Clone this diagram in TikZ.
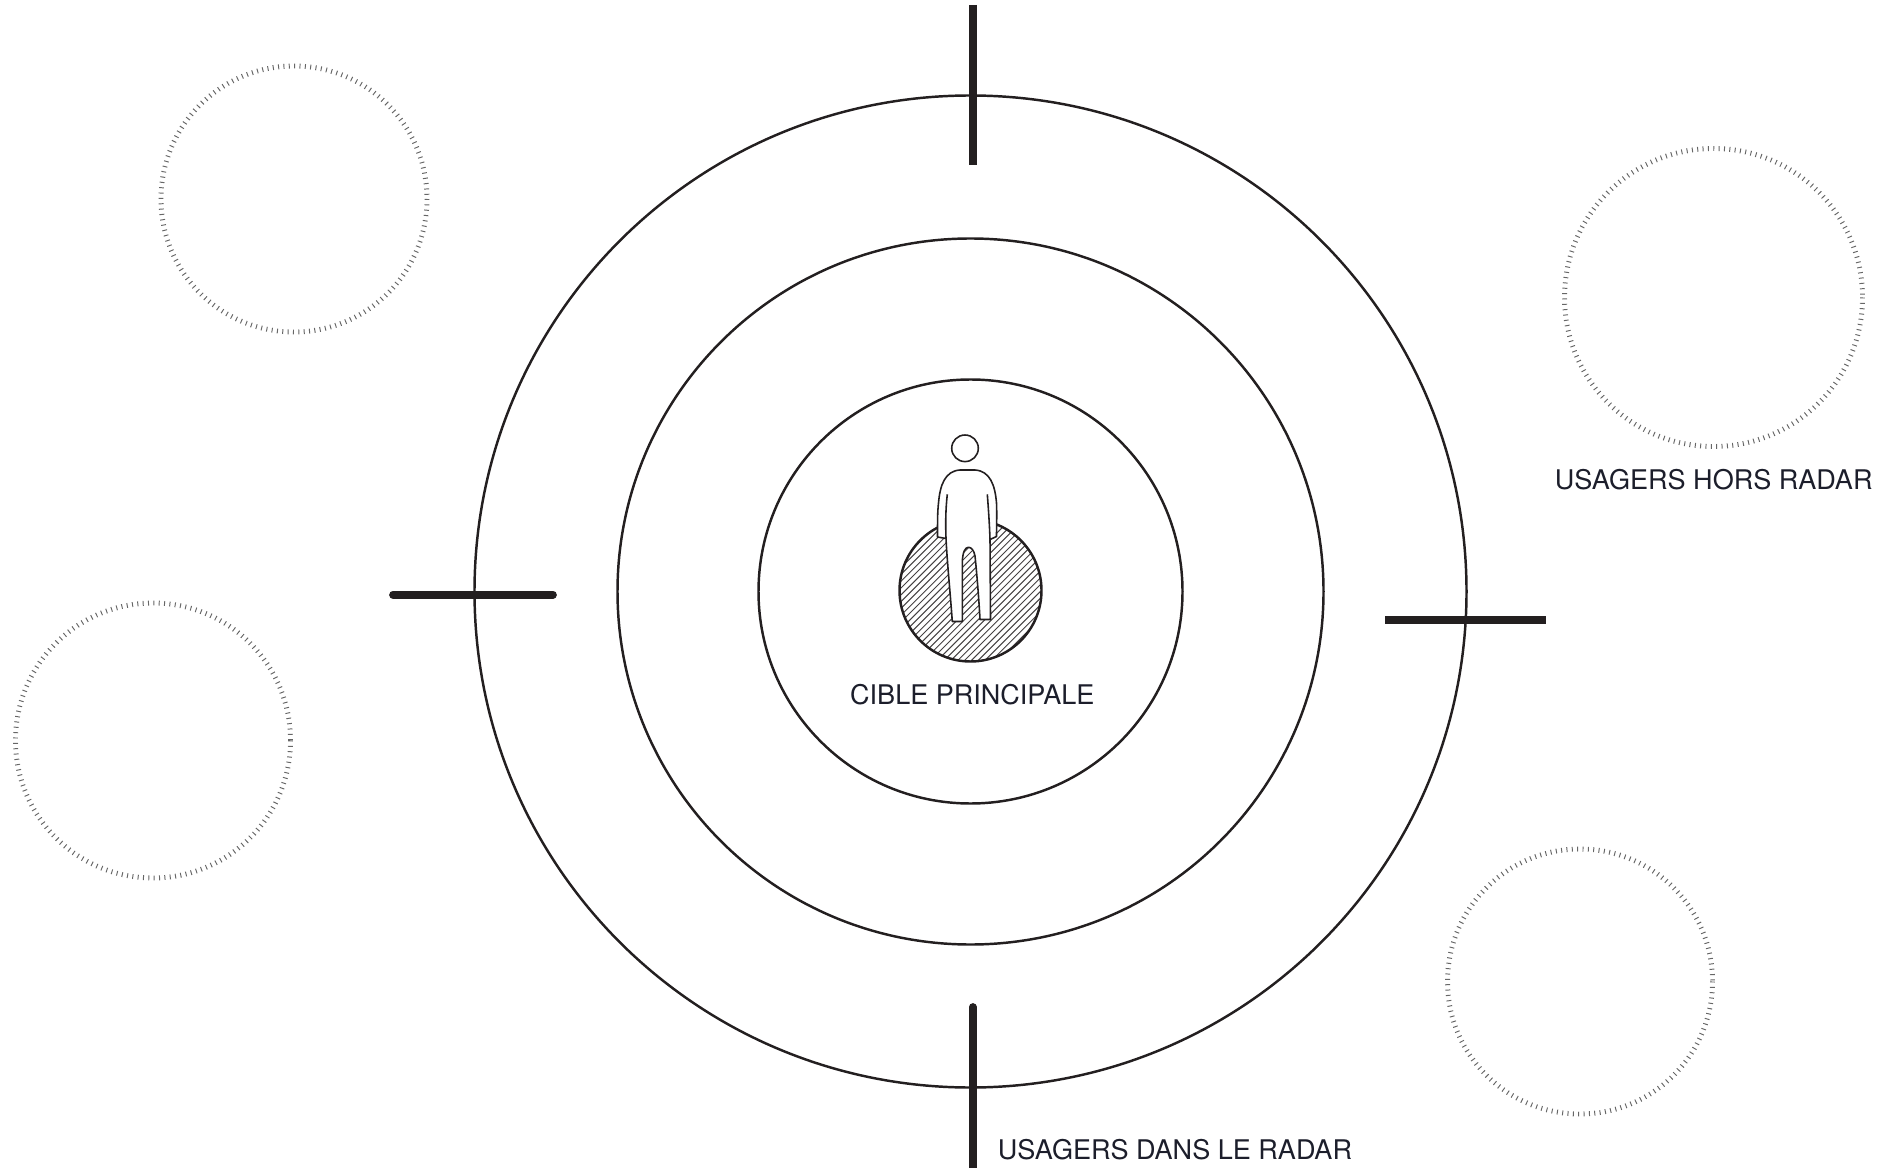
\documentclass[tikz,border=0pt]{standalone}
\usepackage{fontspec}
\setmainfont{TeX Gyre Heros}
\definecolor{inkline}{HTML}{231F20}
\definecolor{inktext}{HTML}{1C1E2B}
\begin{document}
\begin{tikzpicture}[x=0.02cm,y=-0.02cm]
                      \tikzstyle{ring}=[draw=inkline,line width=1.4pt]
                      \tikzstyle{bar}=[draw=inkline,line width=4.4pt]
                      \tikzstyle{ghost}=[draw=black!60,line width=2.8pt,dash pattern=on 0.55pt off 2.5pt]
                      \tikzstyle{label}=[text=inktext,font=\fontsize{15.4}{18}\selectfont,inner sep=0pt]
                      \tikzstyle{figure}=[draw=inkline,line width=0.9pt,fill=white,line join=round]
                      \useasboundingbox (0,0) rectangle (1888,1168);
                      \coordinate (core) at (970.5,591.5);
                      \coordinate (topa) at (972.8,5);
                      \coordinate (topb) at (972.8,165.5);
                      \coordinate (bota) at (972.8,1007);
                      \coordinate (botb) at (972.8,1168);
                      \coordinate (lefta) at (393,594.7);
                      \coordinate (leftb) at (553,594.7);
                      \coordinate (righta) at (1385,619.8);
                      \coordinate (rightb) at (1545.7,619.8);
                      \draw[ring] (core) circle (496);
                      \draw[ring] (core) circle (353);
                      \draw[ring] (core) circle (212);
                      \draw[ghost] (294,199) circle (133);
                      \draw[ghost] (1713.5,297.5) circle (149);
                      \draw[ghost] (153,740.5) circle (137.5);
                      \draw[ghost] (1580,981.5) circle (132.5);
                      \draw[bar] (topa) -- (topb);
                      \draw[bar,line cap=round] (bota) -- (botb);
                      \draw[bar,line cap=round] (lefta) -- (leftb);
                      \draw[bar] (righta) -- (rightb);
                      \begin{scope}
                        \clip (970.5,590.5) circle (71);
                        \foreach \i in {0,...,32}
                          \draw[inkline!85,line width=0.55pt] (775+6.8*\i,680) -- ++(180,-180);
                      \end{scope}
                      \draw[ring] (970.5,590.5) circle (71);
                      \draw[figure] (965,448.3) circle (13.3);
                      \draw[figure] (937.5,537) .. controls (937.5,520) and (937.5,512) .. (938.5,503)
                        .. controls (940,485) and (945,471) .. (960,470)
                        -- (975,470) .. controls (990,471) and (995,485) .. (996.5,503)
                        .. controls (997,515) and (996.5,525) .. (996.5,536.5)
                        -- (990,539.5) -- (990.5,619.5) -- (980,619.5)
                        .. controls (979,600) and (976.5,570) .. (975,556)
                        .. controls (974,550) and (971,547.3) .. (968.5,547.3)
                        .. controls (965,547.3) and (962.5,552) .. (962.3,563)
                        -- (962.3,621.5) -- (952.3,621.5)
                        .. controls (950,590) and (947,560) .. (946,538.5) -- cycle;
                      \draw[figure,fill=none] (947.3,494.3) .. controls (945.5,510) and (945.5,525) .. (946,538.5);
                      \draw[figure,fill=none] (987.3,494.3) .. controls (988.5,510) and (989.5,525) .. (990,539.5);
                      \node[label,anchor=base] (cible) at (972.3,704) {CIBLE PRINCIPALE};
                      \node[label,anchor=base west] (dans) at (997.5,1159) {USAGERS DANS LE RADAR};
                      \node[label,anchor=base west] (hors) at (1554.5,489.3) {USAGERS HORS RADAR};
                  \end{tikzpicture}
\end{document}
